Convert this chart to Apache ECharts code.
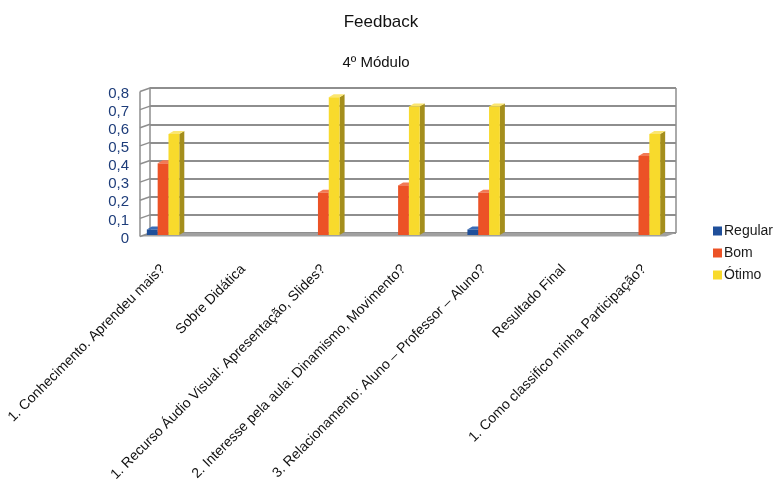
<!DOCTYPE html>
<html>
<head>
<meta charset="utf-8">
<script src="https://cdn.jsdelivr.net/npm/echarts@6/dist/echarts.min.js"></script>
<style>html,body{margin:0;padding:0;background:#fff;}#c{width:773px;height:485px;}</style>
</head>
<body>
<div id="c"></div>
<script>
const categories = [
  '1. Conhecimento. Aprendeu mais?',
  'Sobre Didática',
  '1. Recurso Áudio Visual: Apresentação, Slides?',
  '2. Interesse pela aula: Dinamismo, Movimento?',
  '3. Relacionamento: Aluno – Professor – Aluno?',
  'Resultado Final',
  '1. Como classifico minha Participação?'
];
const regular = [0.03, null, null, null, 0.03, null, null];
const bom     = [0.39, null, 0.23, 0.27, 0.23, null, 0.43];
const otimo   = [0.55, null, 0.75, 0.70, 0.70, null, 0.55];
const seriesNames = ['Regular', 'Bom', 'Ótimo'];
const yTicks = [0, 0.1, 0.2, 0.3, 0.4, 0.5, 0.6, 0.7, 0.8];
const yTickLabels = ['0', '0,1', '0,2', '0,3', '0,4', '0,5', '0,6', '0,7', '0,8'];

const FONT = '"Liberation Sans", Arial, sans-serif';
const faceColors = ['#1f4f9a', '#ec5226', '#f8da2c'];
const sideColors = ['#0f2d62', '#9c3212', '#a48e1c'];
const topColors  = ['#3a6cb8', '#f27a55', '#fbe670'];
const DX = 5, DY = 3;

function barRender(k) {
  return function (params, api) {
    const v = api.value(1);
    if (v == null || isNaN(v)) return;
    const ci = api.value(0);
    const base = api.coord([ci, 0]);
    const top = api.coord([ci, v]);
    const cw = api.size([1, 0])[0];
    const w = cw * 0.135;
    const x = base[0] + (k - 1.5) * w;
    const yb = base[1], yt = top[1];
    return {
      type: 'group',
      children: [
        { type: 'polygon', shape: { points: [[x + w, yt], [x + w + DX, yt - DY], [x + w + DX, yb - DY], [x + w, yb]] },
          style: { fill: sideColors[k] } },
        { type: 'polygon', shape: { points: [[x, yt], [x + DX, yt - DY], [x + w + DX, yt - DY], [x + w, yt]] },
          style: { fill: topColors[k] } },
        { type: 'rect', shape: { x: x, y: yt, width: w, height: yb - yt },
          style: { fill: faceColors[k] } }
      ]
    };
  };
}

function wallRender(params, api) {
  const v = api.value(1);
  const p = api.coord([0, v]);
  const WX = -10, WY = 3.5;
  const children = [
    { type: 'line', shape: { x1: p[0], y1: p[1], x2: p[0] + WX, y2: p[1] + WY },
      style: { stroke: '#8e8e8e', lineWidth: 1.5 } }
  ];
  if (params.dataIndex === 0) {
    const pTop = api.coord([0, yTicks[yTicks.length - 1]]);
    const pR = api.coord([1, 0]);
    children.unshift({ type: 'polygon',
      shape: { points: [[p[0], p[1]], [pR[0], pR[1]], [pR[0] + WX, pR[1] + WY], [p[0] + WX, p[1] + WY]] },
      style: { fill: '#a0a0a0' } });
    children.push({ type: 'line', shape: { x1: p[0] + WX, y1: p[1] + WY, x2: pTop[0] + WX, y2: pTop[1] + WY },
      style: { stroke: '#8e8e8e', lineWidth: 1.5 } });
    children.push({ type: 'line', shape: { x1: pR[0], y1: pTop[1], x2: pR[0], y2: pR[1] },
      style: { stroke: '#8e8e8e', lineWidth: 1.5 } });
  }
  return { type: 'group', children: children };
}

const chart = echarts.init(document.getElementById('c'), null, { renderer: 'canvas' });
const option = {
  backgroundColor: '#fff',
  animation: false,
  title: [
    { text: 'Feedback', left: 376, top: 9, textAlign: 'center',
      textStyle: { fontFamily: FONT, fontSize: 17, fontWeight: 'normal', color: '#111' } },
    { text: '4º Módulo', left: 371, top: 50, textAlign: 'center',
      textStyle: { fontFamily: FONT, fontSize: 15, fontWeight: 'normal', color: '#111' } }
  ],
  legend: {
    orient: 'vertical', left: 713, top: 224, padding: 0, itemWidth: 9, itemHeight: 9, itemGap: 8,
    icon: 'rect', data: seriesNames,
    textStyle: { fontFamily: FONT, fontSize: 14, color: '#1a1a1a', padding: [0, 0, 0, -3] }
  },
  grid: [
    { left: 150, right: 97, top: 88, bottom: 252, outerBoundsMode: 'none', containLabel: false },
    { left: 123, right: 89, top: 88, bottom: 250, outerBoundsMode: 'none', containLabel: false }
  ],
  xAxis: [
    { gridIndex: 0, type: 'value', min: 0, max: 1, show: false },
    { gridIndex: 1, type: 'category', data: categories,
      axisLine: { show: false }, axisTick: { show: false }, splitLine: { show: false },
      axisLabel: { interval: 0, rotate: 45, margin: 32, fontFamily: FONT, fontSize: 14, color: '#111' } }
  ],
  yAxis: [
    { gridIndex: 0, type: 'value', min: 0, max: 0.8, interval: 0.1,
      axisLine: { show: true, lineStyle: { color: '#8e8e8e', width: 1.5 } }, axisTick: { show: false },
      splitLine: { show: true, lineStyle: { color: '#8e8e8e', width: 1.8 } },
      axisLabel: { margin: 21, fontFamily: FONT, fontSize: 15, color: '#1e3d7a', verticalAlign: 'top', lineHeight: 11,
        formatter: function (val) { const i = yTicks.findIndex(t => Math.abs(t - val) < 1e-9); return i >= 0 ? yTickLabels[i] : ''; } } },
    { gridIndex: 1, type: 'value', min: 0, max: 0.8, interval: 0.1, show: false }
  ],
  series: [
    { type: 'custom', name: '_wall', xAxisIndex: 0, yAxisIndex: 0, z: 1, silent: true,
      renderItem: wallRender, data: yTicks.map(v => [0, v]) },
    { type: 'custom', name: seriesNames[0], xAxisIndex: 1, yAxisIndex: 1, z: 3,
      itemStyle: { color: faceColors[0] }, renderItem: barRender(0), data: regular.map((v, i) => [i, v]) },
    { type: 'custom', name: seriesNames[1], xAxisIndex: 1, yAxisIndex: 1, z: 3,
      itemStyle: { color: faceColors[1] }, renderItem: barRender(1), data: bom.map((v, i) => [i, v]) },
    { type: 'custom', name: seriesNames[2], xAxisIndex: 1, yAxisIndex: 1, z: 3,
      itemStyle: { color: faceColors[2] }, renderItem: barRender(2), data: otimo.map((v, i) => [i, v]) }
  ]
};
chart.setOption(option);
</script>
</body>
</html>
